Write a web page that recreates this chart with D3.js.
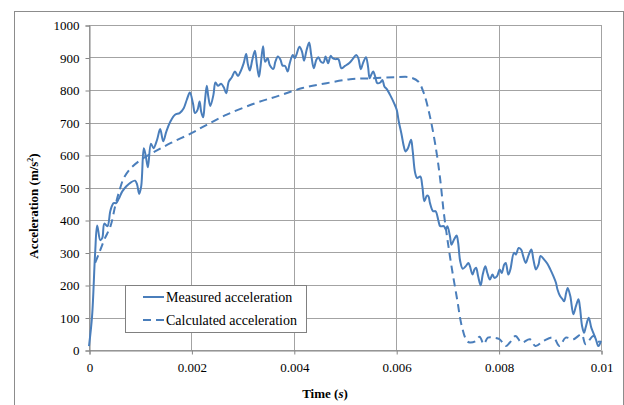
<!DOCTYPE html>
<html><head><meta charset="utf-8">
<script src="https://cdn.jsdelivr.net/npm/d3@7"></script>
<style>body{margin:0;background:#fff}svg{display:block}svg text{font-family:"Liberation Serif","Times New Roman",Tinos,"Nimbus Roman","DejaVu Serif",serif !important}</style>
</head><body><svg id="c" width="624" height="405"></svg>
<script>
const measuredT = [0,0.00006,0.00012,0.00016,0.00022,0.00026,0.00030,0.00036,0.00042,0.00048,0.00053,0.00058,0.00065,0.00073,0.00082,0.00090,0.00094,0.00098,0.00102,0.00107,0.00111,0.00115,0.00121,0.00126,0.00133,0.00139,0.00145,0.00151,0.00159,0.00168,0.00177,0.00185,0.00191,0.00197,0.00203,0.00207,0.00212,0.00216,0.00219,0.00223,0.00226,0.00230,0.00233,0.00237,0.00243,0.00247,0.00252,0.00258,0.00263,0.00268,0.00273,0.00279,0.00285,0.00291,0.00296,0.00302,0.00307,0.00310,0.00314,0.00319,0.00324,0.00328,0.00332,0.00335,0.00340,0.00344,0.00349,0.00353,0.00360,0.00364,0.00369,0.00374,0.00378,0.00383,0.00388,0.00392,0.00398,0.00402,0.00405,0.00411,0.00416,0.00420,0.00425,0.00430,0.00434,0.00439,0.00444,0.00448,0.00453,0.00458,0.00462,0.00467,0.00472,0.00476,0.00481,0.00487,0.00493,0.00500,0.00509,0.00515,0.00522,0.00526,0.00531,0.00535,0.00541,0.00545,0.00548,0.00551,0.00555,0.00559,0.00563,0.00569,0.00573,0.00577,0.00582,0.00588,0.00596,0.00601,0.00605,0.00610,0.00615,0.00618,0.00623,0.00629,0.00632,0.00637,0.00641,0.00647,0.00651,0.00655,0.00660,0.00663,0.00666,0.00672,0.00677,0.00682,0.00686,0.00693,0.00697,0.00700,0.00705,0.00708,0.00713,0.00718,0.00721,0.00725,0.00730,0.00736,0.00741,0.00744,0.00749,0.00753,0.00756,0.00760,0.00765,0.00769,0.00774,0.00778,0.00783,0.00788,0.00792,0.00797,0.00802,0.00806,0.00811,0.00814,0.00819,0.00823,0.00830,0.00834,0.00839,0.00844,0.00848,0.00853,0.00858,0.00864,0.00868,0.00873,0.00878,0.00882,0.00889,0.00895,0.00901,0.00907,0.00912,0.00915,0.00920,0.00925,0.00928,0.00932,0.00935,0.00940,0.00946,0.00951,0.00956,0.00959,0.00963,0.00967,0.00970,0.00976,0.00981,0.00985,0.00990,0.00995,0.01000];
const measuredA = [12,104,299,383,338,345,389,381,430,452,452,465,488,504,516,521,509,480,504,621,596,562,635,621,647,680,642,672,703,724,729,744,770,792,759,729,739,765,734,716,759,813,780,751,785,823,813,819,809,790,826,839,857,843,857,882,911,882,860,893,921,877,841,872,935,887,898,877,865,887,903,893,875,874,857,882,908,898,908,933,918,890,923,946,908,867,893,901,887,884,903,882,905,898,895,895,867,874,884,895,908,898,864,882,901,872,836,846,857,841,821,823,831,811,802,785,759,739,703,667,626,611,621,647,616,545,529,534,504,458,475,473,452,427,427,401,381,381,371,381,350,324,340,352,330,273,250,258,268,258,232,248,253,227,199,232,258,237,217,232,222,227,248,237,263,268,232,248,299,294,314,309,289,268,289,309,278,248,263,289,278,266,248,227,207,186,166,156,150,176,191,166,110,135,156,130,74,53,69,99,69,53,33,12,28];
const calcT = [0.00012,0.00020,0.00030,0.00042,0.00051,0.00059,0.00068,0.00082,0.00102,0.00129,0.00160,0.00200,0.00230,0.00269,0.00324,0.00370,0.00417,0.00464,0.00510,0.00549,0.00596,0.00627,0.00643,0.00654,0.00666,0.00678,0.00686,0.00693,0.00701,0.00709,0.00719,0.00728,0.00738,0.00744,0.00756,0.00763,0.00771,0.00779,0.00791,0.00802,0.00814,0.00822,0.00833,0.00845,0.00861,0.00872,0.00888,0.00907,0.00919,0.00931,0.00946,0.00962,0.00970,0.00985,0.00997];
const calcA = [268,299,340,381,442,488,529,560,586,611,637,667,693,724,759,782,806,821,833,836,839,839,826,790,718,616,524,422,330,248,156,74,28,23,28,41,18,38,38,33,12,23,43,23,33,12,28,38,12,38,33,48,18,43,23];
const xTicks = [0,0.002,0.004,0.006,0.008,0.01];
const xTickLabels = ["0","0.002","0.004","0.006","0.008","0.01"];
const yTicks = [0,100,200,300,400,500,600,700,800,900,1000];
const seriesNames = ["Measured acceleration","Calculated acceleration"];

const FONT='"Liberation Serif","Times New Roman",Tinos,"Nimbus Roman","DejaVu Serif",serif';
const svg = d3.select("#c");
const L=89,R=601,T=25,B=350;
const color="#4a7ebb", grid="#a3a3a3";
svg.append("rect").attr("x",14.5).attr("y",11.5).attr("width",609).attr("height",420).attr("fill","#fff").attr("stroke","#8c8c8c");
const x=d3.scaleLinear().domain([0,0.01]).range([L,R]);
const y=d3.scaleLinear().domain([0,1000]).range([B,T]);
svg.append("g").selectAll("line").data(yTicks).join("line")
 .attr("x1",L).attr("x2",R).attr("y1",d=>Math.round(y(d))+0.5).attr("y2",d=>Math.round(y(d))+0.5)
 .attr("stroke",grid);
svg.append("g").selectAll("line").data(xTicks).join("line")
 .attr("y1",T).attr("y2",B).attr("x1",d=>Math.round(x(d))+0.5).attr("x2",d=>Math.round(x(d))+0.5)
 .attr("stroke",grid);
const ya=svg.append("g").attr("transform",`translate(${L+0.5},0.5)`)
 .call(d3.axisLeft(y).tickValues(yTicks).tickSize(4).tickPadding(6).tickFormat(d3.format("d")));
const xa=svg.append("g").attr("transform",`translate(0.5,${B+0.5})`)
 .call(d3.axisBottom(x).tickValues(xTicks).tickSize(4).tickPadding(8).tickFormat((d,i)=>xTickLabels[i]));
[ya,xa].forEach(g=>{g.attr("font-family",FONT).attr("font-size",13);
 g.select(".domain").attr("stroke","#868686");g.selectAll(".tick line").attr("stroke","#868686");
 g.selectAll("text").attr("fill","#000");});
const mData=measuredT.map((t,i)=>[t,measuredA[i]]);
const cData=calcT.map((t,i)=>[t,calcA[i]]);
const line=d3.line().x(d=>x(d[0])).y(d=>y(d[1])).curve(d3.curveCatmullRom.alpha(0.5));
svg.append("path").datum(cData).attr("d",line).attr("fill","none").attr("stroke",color).attr("stroke-width",2).attr("stroke-dasharray","8,5");
svg.append("path").datum(mData).attr("d",line).attr("fill","none").attr("stroke",color).attr("stroke-width",2);
svg.append("rect").attr("x",125.5).attr("y",285.5).attr("width",181).attr("height",47).attr("fill","#fff").attr("stroke","#808080");
const lg=[{n:seriesNames[0],y:297,dash:null},{n:seriesNames[1],y:320,dash:"8,5"}];
lg.forEach(d=>{
 svg.append("line").attr("x1",143).attr("x2",164).attr("y1",d.y).attr("y2",d.y).attr("stroke",color).attr("stroke-width",2).attr("stroke-dasharray",d.dash);
 svg.append("text").attr("x",166).attr("y",d.y+4.5).attr("font-family",FONT).attr("font-size",14).text(d.n);
});
const yt=svg.append("text").attr("transform","translate(38,206) rotate(-90)").attr("text-anchor","middle").attr("font-family",FONT).attr("font-size",13).attr("font-weight","bold");
yt.append("tspan").text("Acceleration (m/s");
yt.append("tspan").text("2").attr("font-size",8).attr("dy",-5);
yt.append("tspan").text(")").attr("dy",5);
const xt=svg.append("text").attr("x",325).attr("y",398).attr("text-anchor","middle").attr("font-family",FONT).attr("font-size",13).attr("font-weight","bold");
xt.append("tspan").text("Time (");
xt.append("tspan").text("s").attr("font-style","italic");
xt.append("tspan").text(")");
</script></body></html>
